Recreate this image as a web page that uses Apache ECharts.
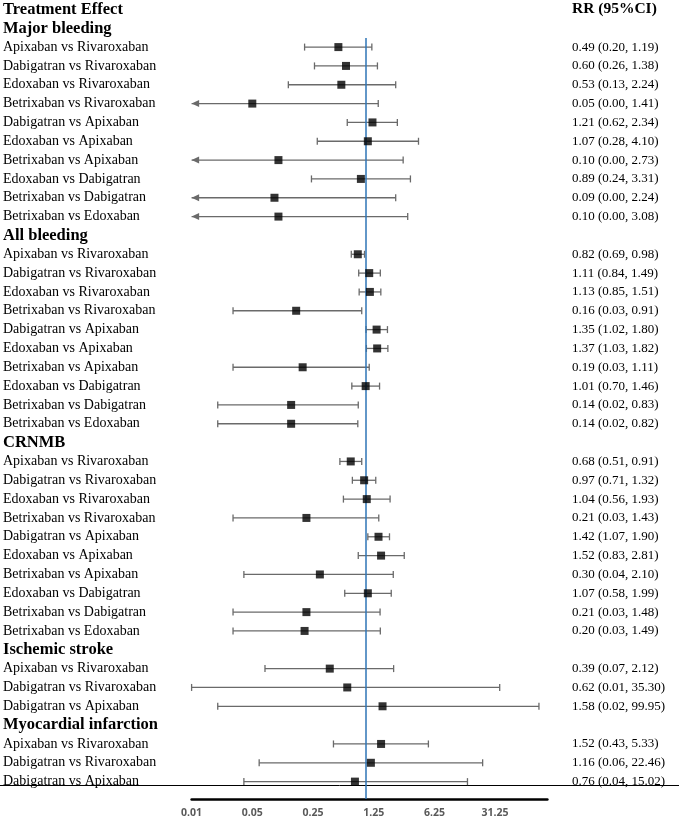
<!DOCTYPE html>
<html><head><meta charset="utf-8">
<script src="https://cdn.jsdelivr.net/npm/echarts@6/dist/echarts.min.js"></script>
<style>html,body{margin:0;padding:0;background:#fff}#chart{width:679px;height:820px}</style>
</head><body><div id="chart"></div>
<script>
// ---------------- data ----------------
const TITLE_LEFT = 'Treatment Effect';
const TITLE_RIGHT = 'RR (95%CI)';
const GROUPS = ['Major bleeding', 'All bleeding', 'CRNMB', 'Ischemic stroke', 'Myocardial infarction'];
const COMPARISONS_10 = ['Apixaban vs Rivaroxaban', 'Dabigatran vs Rivaroxaban', 'Edoxaban vs Rivaroxaban',
  'Betrixaban vs Rivaroxaban', 'Dabigatran vs Apixaban', 'Edoxaban vs Apixaban', 'Betrixaban vs Apixaban',
  'Edoxaban vs Dabigatran', 'Betrixaban vs Dabigatran', 'Betrixaban vs Edoxaban'];
const COMPARISONS_3 = ['Apixaban vs Rivaroxaban', 'Dabigatran vs Rivaroxaban', 'Dabigatran vs Apixaban'];

const majorRR   = [0.49, 0.60, 0.53, 0.05, 1.21, 1.07, 0.10, 0.89, 0.09, 0.10];
const majorLow  = [0.20, 0.26, 0.13, 0.00, 0.62, 0.28, 0.00, 0.24, 0.00, 0.00];
const majorHigh = [1.19, 1.38, 2.24, 1.41, 2.34, 4.10, 2.73, 3.31, 2.24, 3.08];

const allRR   = [0.82, 1.11, 1.13, 0.16, 1.35, 1.37, 0.19, 1.01, 0.14, 0.14];
const allLow  = [0.69, 0.84, 0.85, 0.03, 1.02, 1.03, 0.03, 0.70, 0.02, 0.02];
const allHigh = [0.98, 1.49, 1.51, 0.91, 1.80, 1.82, 1.11, 1.46, 0.83, 0.82];

const crnmbRR   = [0.68, 0.97, 1.04, 0.21, 1.42, 1.52, 0.30, 1.07, 0.21, 0.20];
const crnmbLow  = [0.51, 0.71, 0.56, 0.03, 1.07, 0.83, 0.04, 0.58, 0.03, 0.03];
const crnmbHigh = [0.91, 1.32, 1.93, 1.43, 1.90, 2.81, 2.10, 1.99, 1.48, 1.49];

const strokeRR   = [0.39, 0.62, 1.58];
const strokeLow  = [0.07, 0.01, 0.02];
const strokeHigh = [2.12, 35.30, 99.95];

const miRR   = [1.52, 1.16, 0.76];
const miLow  = [0.43, 0.06, 0.04];
const miHigh = [5.33, 22.46, 15.02];

const TICK_VALUES = [0.01, 0.05, 0.25, 1.25, 6.25, 31.25];
const TICK_LABELS = ['0.01', '0.05', '0.25', '1.25', '6.25', '31.25'];
const AXIS_MIN = 0.01, AXIS_MAX = 125, NULL_LINE = 1;

// ---------------- layout ----------------
const W = 679, H = 820;
const PX_MIN = 191.6;      // pixel of AXIS_MIN
const PX_PER = 60.7;       // pixels per factor of 5
const BAND = 18.93;
const ROW0 = 5.44;
const AXIS_Y = 799;
const GRAY = '#6a6a6a';
const SERIF = '"Liberation Serif", "Times New Roman", serif';

const groupData = [
  [COMPARISONS_10, majorRR, majorLow, majorHigh],
  [COMPARISONS_10, allRR, allLow, allHigh],
  [COMPARISONS_10, crnmbRR, crnmbLow, crnmbHigh],
  [COMPARISONS_3, strokeRR, strokeLow, strokeHigh],
  [COMPARISONS_3, miRR, miLow, miHigh]
];

const leftLabels = [TITLE_LEFT];
const rightLabels = [TITLE_RIGHT];
const headerRows = new Set([0]);
const points = [], bars = [];
groupData.forEach((g, gi) => {
  headerRows.add(leftLabels.length);
  leftLabels.push(GROUPS[gi]);
  rightLabels.push('');
  const [names, rr, lo, hi] = g;
  names.forEach((n, i) => {
    const row = leftLabels.length;
    leftLabels.push(n);
    rightLabels.push(rr[i].toFixed(2) + ' (' + lo[i].toFixed(2) + ', ' + hi[i].toFixed(2) + ')');
    points.push([rr[i], row]);
    const arrow = lo[i] < AXIS_MIN ? 1 : 0;
    bars.push([arrow ? AXIS_MIN : lo[i], hi[i], row, arrow]);
  });
});
const N = leftLabels.length;
const log5 = v => Math.log(v) / Math.log(5);
const fullMin = AXIS_MIN * Math.pow(5, -PX_MIN / PX_PER);
const fullMax = AXIS_MIN * Math.pow(5, (W - PX_MIN) / PX_PER);
const axisRightPx = PX_MIN + log5(AXIS_MAX / AXIS_MIN) * PX_PER;
const gridTop = ROW0 - BAND / 2;
const gridH = N * BAND;

const chart = echarts.init(document.getElementById('chart'), null, {renderer: 'canvas'});
chart.setOption({
  animation: false,
  backgroundColor: '#fff',
  grid: [
    {left: 0, right: 0, top: gridTop, height: gridH},
    {left: PX_MIN, right: W - axisRightPx, top: 38, bottom: H - AXIS_Y}
  ],
  xAxis: [
    {gridIndex: 0, type: 'log', logBase: 5, min: fullMin, max: fullMax, offset: -(gridTop + gridH - 785.7),
      axisLine: {show: true, lineStyle: {color: '#000', width: 1}}, axisTick: {show: false},
      axisLabel: {show: false}, splitLine: {show: false}},
    {gridIndex: 1, type: 'log', logBase: 5, min: AXIS_MIN, max: AXIS_MAX,
      axisLine: {show: true, lineStyle: {color: '#000', width: 2.5}}, axisTick: {show: false},
      splitLine: {show: false},
      axisLabel: {show: true, customValues: TICK_VALUES, margin: 9, color: '#595959',
        fontFamily: '"Open Sans", sans-serif', fontWeight: 'bold', fontSize: 10.5,
        formatter: v => {
          const k = TICK_VALUES.findIndex(t => Math.abs(Math.log(t / v)) < 1e-6);
          return k >= 0 ? TICK_LABELS[k] : '';
        }}}
  ],
  yAxis: [
    {gridIndex: 0, type: 'category', inverse: true, data: leftLabels, position: 'left',
      axisLine: {show: false}, axisTick: {show: false}, splitLine: {show: false},
      axisLabel: {inside: true, align: 'left', margin: 3, interval: 0,
        formatter: (v, i) => (headerRows.has(i) ? '{h|' + v + '}' : '{n|' + v + '}'),
        rich: {
          h: {fontFamily: SERIF, fontWeight: 'bold', fontSize: 16.5, color: '#000'},
          n: {fontFamily: SERIF, fontSize: 14, color: '#000'}
        }}},
    {gridIndex: 0, type: 'category', inverse: true, data: rightLabels, position: 'right',
      axisLine: {show: false}, axisTick: {show: false}, splitLine: {show: false},
      axisLabel: {inside: true, align: 'left', margin: W - 572, interval: 0,
        formatter: (v, i) => (i === 0 ? '{h|' + v + '}' : '{n|' + v + '}'),
        rich: {
          h: {fontFamily: SERIF, fontWeight: 'bold', fontSize: 15.5, color: '#000'},
          n: {fontFamily: SERIF, fontSize: 13, color: '#000'}
        }}},
    {gridIndex: 1, type: 'value', min: 0, max: 1, show: false}
  ],
  series: [
    {
      type: 'custom', xAxisIndex: 0, yAxisIndex: 0, silent: true, clip: false,
      encode: {x: [0, 1], y: 2},
      data: bars,
      renderItem: (params, api) => {
        const row = api.value(2);
        const a = api.coord([api.value(0), row]);
        const b = api.coord([api.value(1), row]);
        const y = a[1];
        const cap = 3.5;
        const st = {stroke: GRAY, lineWidth: 1.3};
        const ch = [
          {type: 'line', shape: {x1: a[0], y1: y, x2: b[0], y2: y}, style: st},
          {type: 'line', shape: {x1: b[0], y1: y - cap, x2: b[0], y2: y + cap}, style: st}
        ];
        if (api.value(3)) {
          ch.push({type: 'polygon', shape: {points: [[a[0], y], [a[0] + 7.5, y - 3.5], [a[0] + 7.5, y + 3.5]]},
            style: {fill: GRAY}});
        } else {
          ch.push({type: 'line', shape: {x1: a[0], y1: y - cap, x2: a[0], y2: y + cap}, style: st});
        }
        return {type: 'group', children: ch};
      }
    },
    {
      type: 'scatter', xAxisIndex: 0, yAxisIndex: 0, silent: true, z: 5,
      symbol: 'rect', symbolSize: 8, itemStyle: {color: '#000'},
      data: points
    },
    {
      type: 'line', xAxisIndex: 1, yAxisIndex: 2, silent: true, showSymbol: false,
      lineStyle: {opacity: 0}, data: [[NULL_LINE, 0]],
      markLine: {silent: true, symbol: 'none', label: {show: false},
        lineStyle: {color: '#2E75B6', width: 1.5, type: 'solid'},
        data: [{xAxis: NULL_LINE}]}
    }
  ]
});
</script>
</body></html>
